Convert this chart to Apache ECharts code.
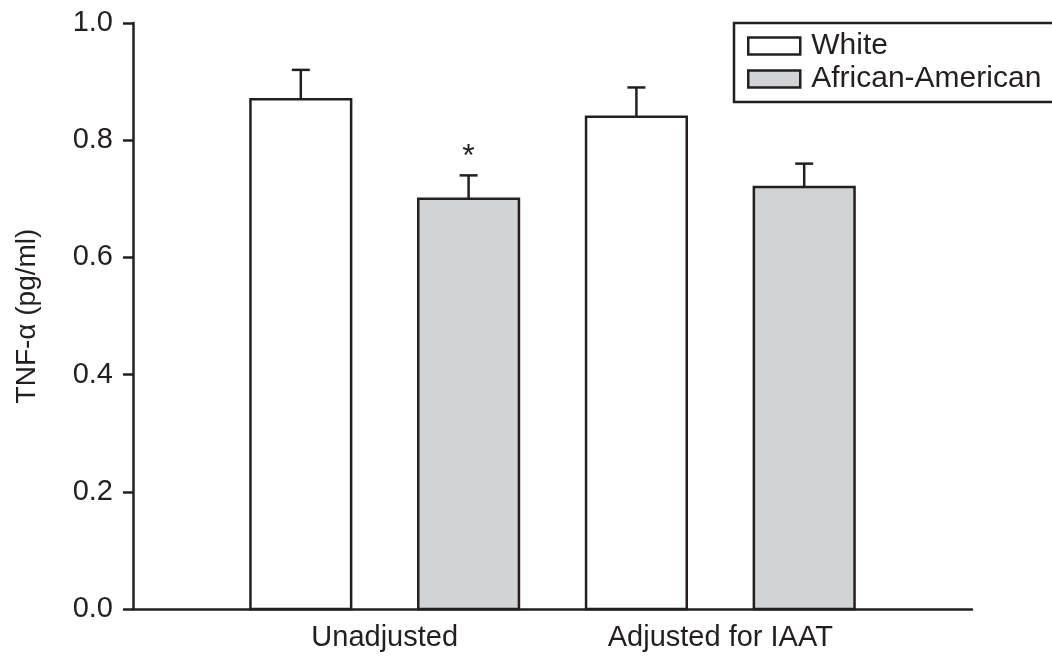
<!DOCTYPE html>
<html>
<head>
<meta charset="utf-8">
<script src="https://cdn.jsdelivr.net/npm/echarts@6/dist/echarts.min.js"></script>
<style>
  html, body { margin: 0; padding: 0; background: #fff; }
  #chart { width: 1052px; height: 656px; }
</style>
</head>
<body>
<div id="chart"></div>
<script>
// data
var groups = ['Unadjusted', 'Adjusted for IAAT'];
var groupPos = [1, 2];
var whiteMean = [0.87, 0.84];
var whiteErr = [0.05, 0.05];
var aaMean = [0.70, 0.72];
var aaErr = [0.04, 0.04];
var aaMark = ['*', ''];

var ink = '#231f20';
var font = "'Liberation Sans', Arial, sans-serif";

function makeData(mean, err, mark) {
  var out = [];
  for (var i = 0; i < mean.length; i++) {
    out.push([groupPos[i], mean[i], err[i], mark ? mark[i] : '']);
  }
  return out;
}

function barRenderer(offset, fill) {
  return function (params, api) {
    var x = api.value(0) + offset;
    var v = api.value(1);
    var e = api.value(2);
    var mark = api.value(3);
    var top = api.coord([x, v]);
    var base = api.coord([x, 0]);
    var cap = api.coord([x, v + e]);
    var halfW = api.size([0.15, 0])[0];
    var kids = [
      {
        type: 'line',
        shape: { x1: top[0], y1: top[1], x2: cap[0], y2: cap[1] },
        style: { stroke: ink, lineWidth: 2.5 }
      },
      {
        type: 'line',
        shape: { x1: cap[0] - 9, y1: cap[1], x2: cap[0] + 9, y2: cap[1] },
        style: { stroke: ink, lineWidth: 2.5 }
      },
      {
        type: 'rect',
        shape: { x: top[0] - halfW, y: top[1], width: halfW * 2, height: base[1] - top[1] },
        style: { fill: fill, stroke: ink, lineWidth: 2.5 }
      }
    ];
    if (mark) {
      kids.push({
        type: 'text',
        style: {
          text: mark, x: cap[0], y: cap[1] - 18,
          align: 'center', verticalAlign: 'middle',
          fontSize: 32, fontFamily: font, fill: ink
        }
      });
    }
    return { type: 'group', children: kids };
  };
}

var chart = echarts.init(document.getElementById('chart'));
chart.setOption({
  backgroundColor: '#fff',
  animation: false,
  grid: { left: 133, right: 80, top: 23, bottom: 47 },
  legend: {
    left: 734, top: 23,
    orient: 'vertical',
    padding: [7, 40, 7, 13],
    itemGap: 1,
    itemWidth: 52, itemHeight: 17,
    borderColor: ink, borderWidth: 2.5,
    icon: 'rect',
    selectedMode: false,
    textStyle: { fontSize: 30, fontFamily: font, color: ink, lineHeight: 32, padding: [0, 0, 0, 6] },
    data: [
      { name: 'White', itemStyle: { color: '#ffffff', borderColor: ink, borderWidth: 2.5 } },
      { name: 'African-American', itemStyle: { color: '#d1d3d4', borderColor: ink, borderWidth: 2.5 } }
    ]
  },
  xAxis: {
    type: 'value',
    min: 0.25, max: 2.75,
    axisLine: { show: true, lineStyle: { color: ink, width: 2.5 } },
    axisTick: { show: false },
    splitLine: { show: false },
    axisLabel: {
      customValues: groupPos,
      formatter: function (v) { return groups[groupPos.indexOf(v)] || ''; },
      fontSize: 29, fontFamily: font, color: ink, margin: 14
    }
  },
  yAxis: {
    type: 'value',
    min: 0, max: 1, interval: 0.2,
    name: 'TNF-\u03b1 (pg/ml)',
    nameLocation: 'middle',
    nameGap: 92,
    nameTextStyle: { fontSize: 28, fontFamily: font, color: ink },
    axisLine: { show: true, lineStyle: { color: ink, width: 2.5 } },
    axisTick: { show: true, length: 10, lineStyle: { color: ink, width: 2.5 } },
    splitLine: { show: false },
    axisLabel: {
      formatter: function (v) { return v.toFixed(1); },
      fontSize: 29, fontFamily: font, color: ink, margin: 20
    }
  },
  series: [
    {
      name: 'White', type: 'custom',
      itemStyle: { color: '#ffffff' },
      renderItem: barRenderer(-0.25, '#ffffff'),
      data: makeData(whiteMean, whiteErr)
    },
    {
      name: 'African-American', type: 'custom',
      itemStyle: { color: '#d1d3d4' },
      renderItem: barRenderer(0.25, '#d1d3d4'),
      data: makeData(aaMean, aaErr, aaMark)
    }
  ]
});
</script>
</body>
</html>
